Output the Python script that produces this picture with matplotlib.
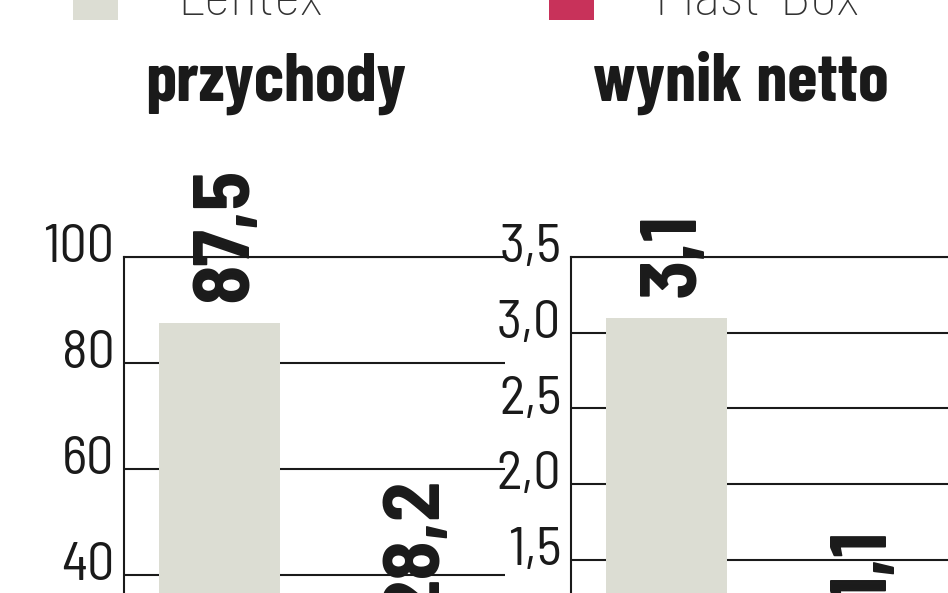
import matplotlib
matplotlib.use("Agg")
import matplotlib.pyplot as plt
from matplotlib.patches import Rectangle
from matplotlib.transforms import ScaledTranslation

# ---- data ----
series = ["Lentex", "Plast-Box"]
colors = ["#DCDDD3", "#C8325A"]
panel_titles = ["przychody", "wynik netto"]
revenue = [87.5, 28.2]
net_result = [3.1, 1.1]
revenue_ticks = [0, 20, 40, 60, 80, 100]
net_ticks = [0, 0.5, 1.0, 1.5, 2.0, 2.5, 3.0, 3.5]

FALLBACK = ["Roboto Condensed", "Liberation Sans Narrow", "DejaVu Sans"]
FONT_C = ["Barlow Condensed"] + FALLBACK
FONT_SC = ["Barlow Semi Condensed"] + FALLBACK
plt.rcParams["font.family"] = FONT_SC
INK = "#1a1a1a"

W, H = 948, 593
fig = plt.figure(figsize=(W / 100, H / 100), dpi=100)
fig.patch.set_facecolor("white")

def fx(px):
    return px / W

def fy(py_top):
    return (H - py_top) / H

ax_w = 381
ax_h = 530
y_top = 257
axes_left = [124, 571]
panels = [(revenue, revenue_ticks, 100, "{:.0f}"), (net_result, net_ticks, 3.5, "{:.1f}")]

for i, (vals, ticks, ymax, fmt) in enumerate(panels):
    ax = fig.add_axes([fx(axes_left[i]), fy(y_top + ax_h), fx(ax_w), ax_h / H])
    xs = list(range(len(vals)))
    bars = ax.bar(xs, vals, width=0.635, color=colors, zorder=3)
    ax.set_xlim(-0.5, 1.5)
    ax.set_ylim(0, ymax)
    ax.set_yticks(ticks)
    ax.set_yticklabels([fmt.format(t).replace(".", ",") for t in ticks])
    ax.set_xticks([])
    ax.tick_params(axis="y", length=0, pad=7, labelsize=39, labelcolor=INK)
    off = ScaledTranslation(0, 10 / 72, fig.dpi_scale_trans)
    for lab in ax.get_yticklabels():
        lab.set_transform(lab.get_transform() + off)
        lab.set_fontweight("normal")
    ax.yaxis.grid(True, color=INK, lw=1.5, zorder=1)
    ax.set_axisbelow(True)
    for s in ["right", "bottom"]:
        ax.spines[s].set_visible(False)
    for s in ["left", "top"]:
        ax.spines[s].set_color(INK)
        ax.spines[s].set_linewidth(1.5)
    ax.patch.set_alpha(0)
    labs = ax.bar_label(bars, labels=[f"{v:.1f}".replace(".", ",") for v in vals],
                        rotation=90, padding=15, fontsize=58, fontweight="bold",
                        color=INK, clip_on=False)
    for t in labs:
        t.set_rotation_mode("anchor")
        t.set_ha("left")
        t.set_va("center_baseline")

# titles
title_x = [145, 593]
for tx, tt in zip(title_x, panel_titles):
    fig.text(fx(tx), fy(101), tt, ha="left", va="baseline", fontsize=50,
             fontweight="bold", color=INK, family=FONT_C)

# legend (partially cropped at top)
sq_x = [73, 549]
txt_x = [177, 655]
for sx, tx, name, c in zip(sq_x, txt_x, series, colors):
    fig.add_artist(Rectangle((fx(sx), fy(20)), fx(45), 45 / H,
                             transform=fig.transFigure, color=c, lw=0))
    fig.text(fx(tx), fy(15), name, ha="left", va="baseline", fontsize=41,
             fontweight="light", color="#333333")

fig.savefig("out.png", dpi=100, facecolor="white")
